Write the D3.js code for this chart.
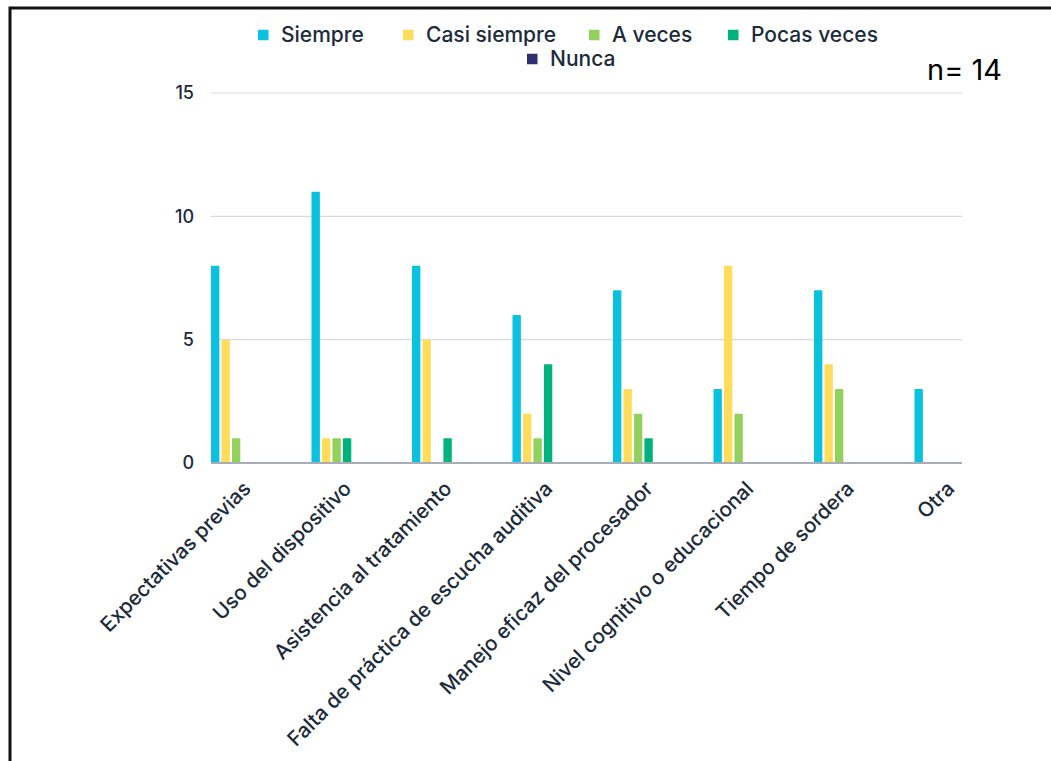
<!DOCTYPE html>
<html><head><meta charset="utf-8">
<script src="https://cdn.jsdelivr.net/npm/d3@7"></script>
<style>
html,body{margin:0;padding:0;background:#fff;}
svg{display:block;font-family:Inter,"Noto Sans",sans-serif;}
</style></head>
<body><svg id="c" width="1051" height="761"></svg>
<script>
const categories = ["Expectativas previas","Uso del dispositivo","Asistencia al tratamiento","Falta de práctica de escucha auditiva","Manejo eficaz del procesador","Nivel cognitivo o educacional","Tiempo de sordera","Otra"];
const seriesNames = ["Siempre","Casi siempre","A veces","Pocas veces","Nunca"];
const siempre     = [8,11,8,6,7,3,7,3];
const casiSiempre = [5,1,5,2,3,8,4,0];
const aVeces      = [1,1,0,1,2,2,3,0];
const pocasVeces  = [0,1,1,4,1,0,0,0];
const nunca       = [0,0,0,0,0,0,0,0];
const yTicks = [0,5,10,15];
const colors = ["#0BC1E0","#FFDC59","#93D15F","#00B27B","#2D2F6E"];
const sampleNote = "n= 14";

const seriesVals = [siempre,casiSiempre,aVeces,pocasVeces,nunca];
const svg = d3.select("#c");
const textCol = "#1c2b3b";

// frame
svg.append("path").attr("d","M10,761 L10,8 L1051,8").attr("fill","none").attr("stroke","#111").attr("stroke-width",3);

const axL = 211, axR = 962, y0 = 463, y15 = 93;
const y = d3.scaleLinear().domain([0,15]).range([y0,y15]);
const x = d3.scaleBand().domain(categories).range([axL, axL + 804]).paddingInner(0.5).paddingOuter(0.25).align(0);
const xs = d3.scaleBand().domain(seriesNames).range([0, x.bandwidth()]).paddingInner(0.2).paddingOuter(0);

// gridlines
svg.append("g").selectAll("line").data(yTicks.filter(d=>d>0)).join("line")
  .attr("x1",axL).attr("x2",axR).attr("y1",d=>y(d)).attr("y2",d=>y(d))
  .attr("stroke","#d7dbe0").attr("stroke-width",1.2);

// y axis labels
const yAxis = d3.axisLeft(y).tickValues(yTicks).tickSize(0).tickPadding(0).tickFormat(d3.format("d"));
const ga = svg.append("g").attr("transform",`translate(194,0)`).call(yAxis);
ga.select(".domain").remove();
ga.selectAll("text").attr("fill",textCol).attr("font-size",18).attr("font-weight",500).attr("font-family","Inter,sans-serif");

// bars
const groups = svg.append("g").selectAll("g").data(categories).join("g")
  .attr("transform",d=>`translate(${x(d)},0)`);
groups.selectAll("rect").data((c,i)=>seriesNames.map((s,j)=>({s,v:seriesVals[j][i],j})).filter(d=>d.v>0)).join("rect")
  .attr("x",d=>xs(d.s)).attr("width",xs.bandwidth())
  .attr("y",d=>y(d.v)).attr("height",d=>y(0)-y(d.v))
  .attr("fill",d=>colors[d.j]).attr("rx",1);

// baseline
svg.append("line").attr("x1",axL).attr("x2",axR).attr("y1",y0).attr("y2",y0).attr("stroke","#a9aeb6").attr("stroke-width",2);

// x labels
const xAxis = d3.axisBottom(x).tickSize(0).tickPadding(0);
const gx = svg.append("g").attr("transform",`translate(0,${y0})`).call(xAxis);
gx.select(".domain").remove();
gx.selectAll(".tick").attr("transform",d=>`translate(${x(d)+x.bandwidth()/2},0)`);
gx.selectAll("text").attr("fill",textCol).attr("font-size",20.5).attr("font-weight",500).attr("font-family","Inter,sans-serif")
  .attr("text-anchor","end").attr("dy",0).attr("y",0)
  .attr("transform","translate(16,27) rotate(-45)");

// legend
const legItems = [
  {i:0,x:258,y:35},{i:1,x:403,y:35},{i:2,x:589,y:35},{i:3,x:728,y:35},{i:4,x:527,y:59}
];
const lg = svg.append("g").selectAll("g").data(legItems).join("g").attr("transform",d=>`translate(${d.x},${d.y})`);
lg.append("rect").attr("x",0).attr("y",-5.25).attr("width",10.5).attr("height",10.5).attr("fill",d=>colors[d.i]);
lg.append("text").attr("x",23).attr("y",0).attr("dy","0.35em").text(d=>seriesNames[d.i])
  .attr("fill",textCol).attr("font-size",21).attr("font-weight",500);

svg.append("text").attr("x",927).attr("y",80).text(sampleNote).attr("fill","#000").attr("font-size",29).attr("font-family","Inter,sans-serif");
</script></body></html>
